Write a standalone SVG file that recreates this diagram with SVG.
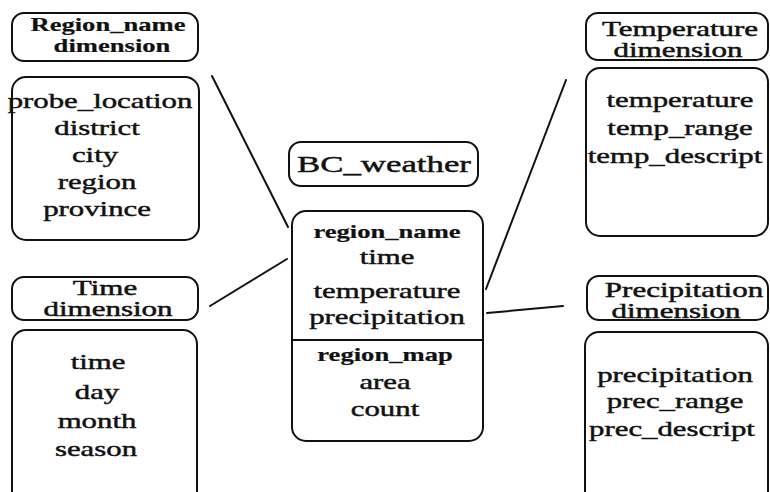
<svg xmlns="http://www.w3.org/2000/svg" width="770" height="492" viewBox="0 0 770 492">
  <style>
    .box { fill: #fff; stroke: #111; stroke-width: 2; }
    .conn { stroke: #111; stroke-width: 2; fill: none; stroke-linecap: round; }
    text { font-family: "Liberation Serif", "Times New Roman", serif; fill: #111; stroke: #111; stroke-width: 0.45; text-anchor: middle; }
    .t { font-size: 22px; }
    .b { font-size: 19px; font-weight: bold; stroke-width: 0.2; }
    .h { font-size: 20px; }
  </style>
  <rect width="770" height="492" fill="#fff"/>

  <!-- connectors between the fact table and its dimensions -->
  <g id="connectors">
    <line class="conn" x1="212" y1="76" x2="288" y2="227"/>
    <line class="conn" x1="210" y1="306" x2="287" y2="259"/>
    <line class="conn" x1="566" y1="80" x2="486" y2="289"/>
    <line class="conn" x1="487" y1="313" x2="563" y2="306"/>
  </g>

  <g id="region-dimension">
    <rect class="box" x="12" y="13" width="186" height="48" rx="12"/>
    <text class="b" transform="translate(108 31) scale(1.4 1)">Region_name</text>
    <text class="b" transform="translate(112 52) scale(1.4 1)">dimension</text>
    <rect class="box" x="12" y="77" width="187" height="163" rx="14"/>
    <text class="t" transform="translate(100 108) scale(1.4 1)">probe_location</text>
    <text class="t" transform="translate(97 135) scale(1.4 1)">district</text>
    <text class="t" transform="translate(95 162) scale(1.4 1)">city</text>
    <text class="t" transform="translate(97 189) scale(1.4 1)">region</text>
    <text class="t" transform="translate(97 216) scale(1.4 1)">province</text>
  </g>

  <g id="time-dimension">
    <rect class="box" x="12" y="277" width="186" height="43" rx="12"/>
    <text class="h" transform="translate(105 295) scale(1.55 1)">Time</text>
    <text class="h" transform="translate(108 316) scale(1.55 1)">dimension</text>
    <rect class="box" x="12" y="330" width="185" height="175" rx="14"/>
    <text class="t" transform="translate(98 369) scale(1.4 1)">time</text>
    <text class="t" transform="translate(97 399) scale(1.4 1)">day</text>
    <text class="t" transform="translate(97 428) scale(1.4 1)">month</text>
    <text class="t" transform="translate(96 456) scale(1.4 1)">season</text>
  </g>

  <g id="bc-weather-title">
    <rect class="box" x="289" y="142" width="189" height="44" rx="12"/>
    <text style="font-size:24px" transform="translate(384 172) scale(1.45 1)">BC_weather</text>
  </g>

  <g id="bc-weather-fact">
    <rect class="box" x="292" y="211" width="191" height="230" rx="14"/>
    <text class="b" transform="translate(387 238) scale(1.4 1)">region_name</text>
    <text class="t" transform="translate(387 264) scale(1.4 1)">time</text>
    <text class="t" transform="translate(387 298) scale(1.4 1)">temperature</text>
    <text class="t" transform="translate(387 324) scale(1.4 1)">precipitation</text>
    <line class="conn" x1="292" y1="340" x2="483" y2="340"/>
    <text class="b" transform="translate(385 361) scale(1.4 1)">region_map</text>
    <text class="t" transform="translate(385 389) scale(1.4 1)">area</text>
    <text class="t" transform="translate(385 416) scale(1.4 1)">count</text>
  </g>

  <g id="temperature-dimension">
    <rect class="box" x="586" y="13" width="182" height="47" rx="12"/>
    <text class="h" transform="translate(680 36) scale(1.55 1)">Temperature</text>
    <text class="h" transform="translate(678 57) scale(1.55 1)">dimension</text>
    <rect class="box" x="586" y="68" width="182" height="168" rx="14"/>
    <text class="t" transform="translate(680 107) scale(1.4 1)">temperature</text>
    <text class="t" transform="translate(680 135) scale(1.4 1)">temp_range</text>
    <text class="t" transform="translate(675 163) scale(1.4 1)">temp_descript</text>
  </g>

  <g id="precipitation-dimension">
    <rect class="box" x="587" y="276" width="181" height="44" rx="12"/>
    <text class="h" transform="translate(684 297) scale(1.55 1)">Precipitation</text>
    <text class="h" transform="translate(676 318) scale(1.55 1)">dimension</text>
    <rect class="box" x="585" y="332" width="183" height="175" rx="14"/>
    <text class="t" transform="translate(675 382) scale(1.4 1)">precipitation</text>
    <text class="t" transform="translate(675 408) scale(1.4 1)">prec_range</text>
    <text class="t" transform="translate(672 436) scale(1.4 1)">prec_descript</text>
  </g>
</svg>
